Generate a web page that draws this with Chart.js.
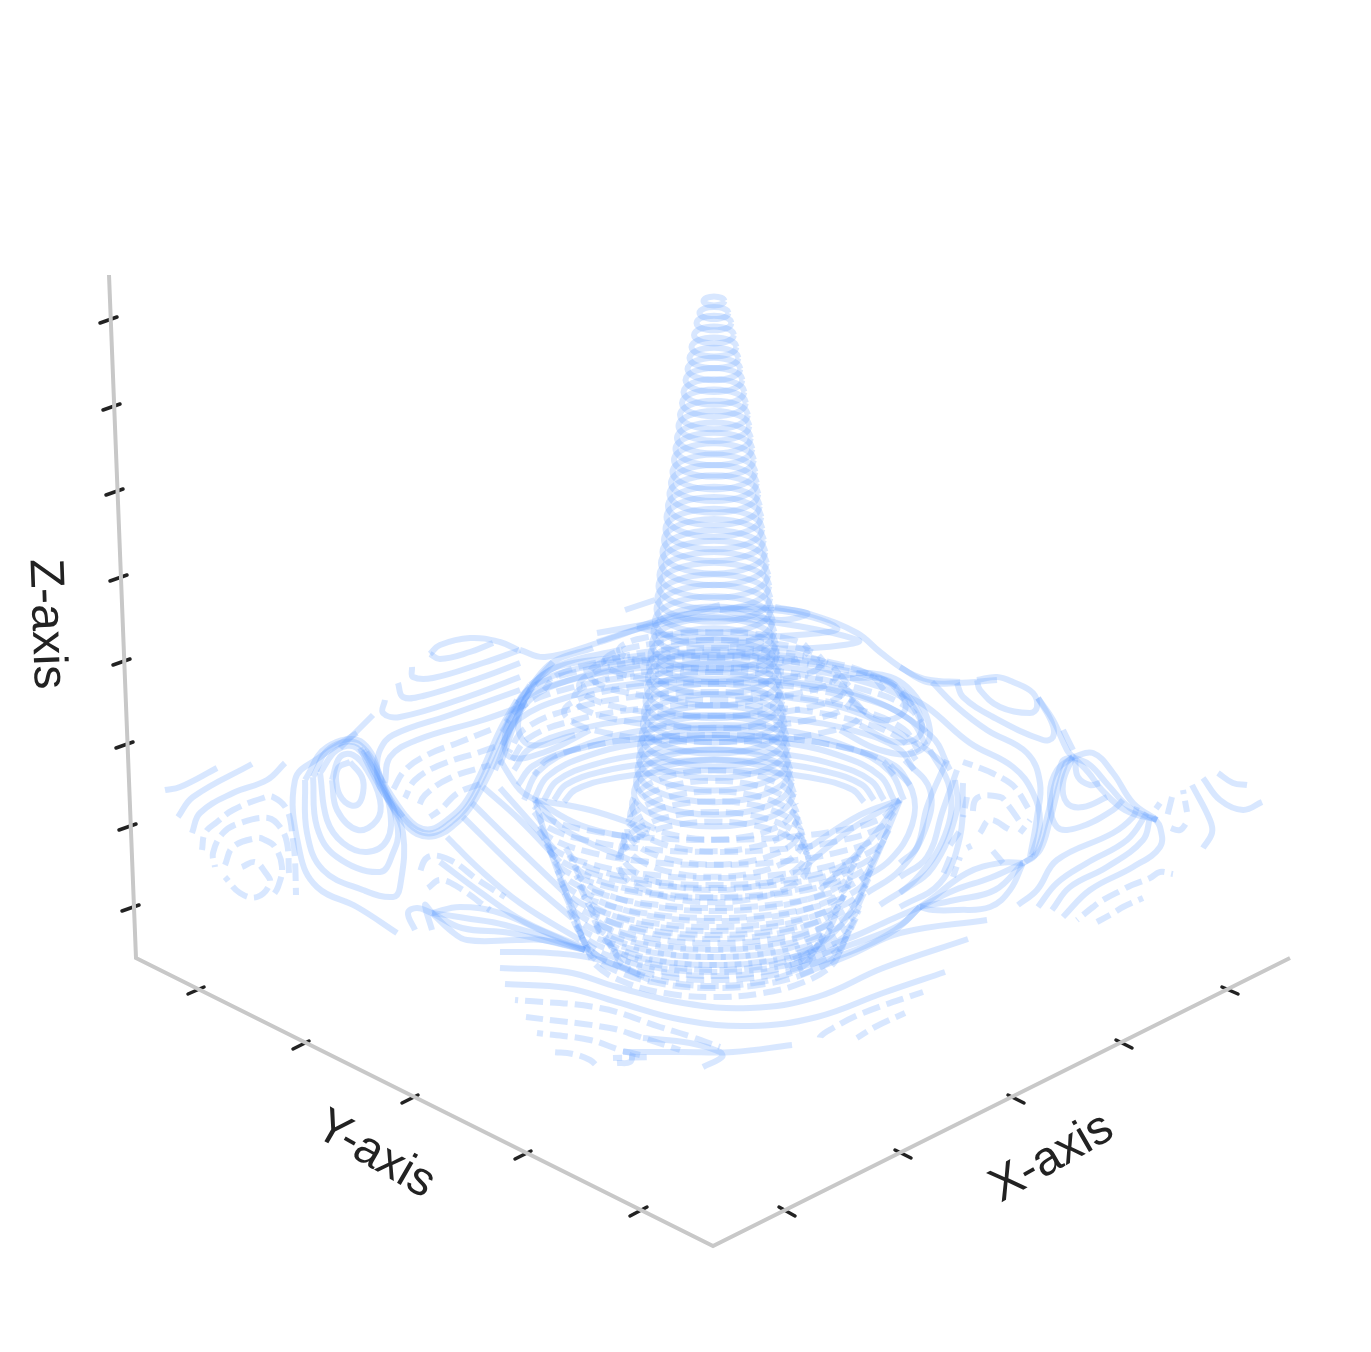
<!DOCTYPE html>
<html lang="en">
<head>
  <meta charset="UTF-8" />
  <title>3D contour</title>
  <script src="https://cdn.jsdelivr.net/npm/chart.js"></script>
  <style>
    body { margin: 0; background: #fff; }
    canvas { display: block; }
  </style>
</head>
<body>
  <canvas id="chart" width="1371" height="1352"></canvas>
  <script>

    // central peak, one contour per row: centre height and half width
    const peakCentre = [301,313,323,335,347,358,369,380,392,403,415,426,438,449,460,472,483,494,506,517,529,540,552,563,575,586,598,609,621,632,644,655,667,678,690,701,713,724,736,747,759,770,782,793,805,816,828,839,851,862];
    const peakRadius = [10.5,14.5,17.5,20,22.5,24.5,26.5,28.5,30.5,32,34,35.5,37,38.5,40,41.5,43,44.5,46,47.5,48.5,50,51.5,53,54.5,55.5,56.5,57.5,59,60.5,62,63.5,65,66,67,68.5,70,71,72.5,74,75,76.5,78,80,82,84,87,90,93,96];

    // rings around the middle: [centre y, half width, half height]
    const centreDashRings = [[650,95,18],[662,110,22],[674,125,26],[686,135,30],[698,140,30],[712,150,30]];
    const upperSolidArcs = [[700,190,45],[722,208,58],[745,212,66],[770,200,55],[785,196,50]];
    const upperDashArcs = [[690,170,38],[708,200,50],[732,212,60],[752,205,60],[760,202,55],[775,180,40]];
    const bowlArcs = [[800,190,75],[800,180,62],[800,170,50],[800,160,40],[802,150,32]];
    const lowerDashArcs = [[945,128,52],[935,133,53],[930,135,50],[925,138,47],[918,142,47],[910,145,47],[900,148,50],[893,150,50],[885,152,50],[878,155,49],[870,157,48],[860,160,48],[850,165,48],[840,170,48],[830,175,48],[820,178,45],[812,180,40],[806,180,34]];
    const lowerDashArcsInner = [[950,100,36],[942,105,34],[934,110,36],[925,118,40],[915,122,42],[905,125,44],[895,130,44],[885,135,46],[875,138,46],[865,140,46],[855,145,42],[845,150,40]];
    const unitRing = [[1,0],[.924,.383],[.707,.707],[.383,.924],[0,1],[-.383,.924],[-.707,.707],[-.924,.383],[-1,0],[-.924,-.383],[-.707,-.707],[-.383,-.924],[0,-1],[.383,-.924],[.707,-.707],[.924,-.383],[1,0]];
    const unitArc = [[-1,0],[-.924,-.383],[-.707,-.707],[-.383,-.924],[0,-1],[.383,-.924],[.707,-.707],[.924,-.383],[1,0]];
    const unitLower = [[-1,0],[-.924,.383],[-.707,.707],[-.383,.924],[0,1],[.383,.924],[.707,.707],[.924,.383],[1,0]];

    const leftHillLines = [
      [[350,762],[362,777],[363,793],[357,805],[345,802],[337,787],[338,768],[350,762]],
      [[332,780],[337,810],[358,830],[377,820],[380,800],[367,770],[353,755],[340,757],[332,780]],
      [[320,773],[327,820],[343,843],[367,852],[387,840],[390,810],[380,783],[357,748],[337,750],[320,773]],
      [[313,777],[317,827],[337,857],[380,872],[393,853],[398,830],[387,793],[360,745],[330,748],[313,777]],
      [[305,780],[307,833],[323,870],[363,890],[393,897],[400,887],[403,833],[387,797],[363,743],[327,747],[305,780]],
      [[397,933],[357,907],[317,887],[300,853],[295,780],[320,757],[357,733]],
      [[340,748],[373,715]],
      [[363,750],[383,787],[403,817],[417,830],[433,833],[450,823],[467,807],[483,777],[503,733],[520,703]],
      [[360,748],[380,787],[402,820],[417,834],[435,836],[453,826],[470,808],[487,778],[507,735],[525,700]],
      [[366,752],[386,787],[405,815],[418,827],[432,829],[447,820],[464,804],[480,775],[500,730],[517,700]],
      [[165,790],[180,787],[217,768]],
      [[178,817],[193,797],[252,764]],
      [[192,833],[200,813],[233,793],[267,780],[285,763]]
    ];
    const leftHillDashes = [
      [[202,850],[205,833],[217,822],[233,810],[263,798],[273,797],[287,810],[293,840],[295,860],[296,895]],
      [[215,867],[213,853],[223,833],[240,823],[268,818],[280,827],[287,843],[289,873]],
      [[225,865],[233,847],[257,838],[265,840],[275,847],[282,867],[278,887],[272,897]],
      [[225,877],[240,893],[257,897],[270,883],[265,872],[255,862],[242,867]]
    ];
    const backLeftLines = [
      [[430,654],[440,645],[470,638],[500,642],[518,650]],
      [[430,654],[440,659],[470,652],[493,643]],
      [[412,667],[413,677],[433,678],[483,663],[520,650]],
      [[398,683],[403,697],[423,696],[483,677],[520,663]],
      [[385,700],[383,713],[400,717],[467,697],[520,677]],
      [[403,817],[380,787],[377,767],[380,750],[393,735],[450,715],[520,690]],
      [[385,783],[390,757],[417,740],[483,720],[525,705]]
    ];
    const valleyLeftDashes = [
      [[393,790],[405,770],[427,755],[460,742],[495,728]],
      [[405,798],[415,780],[440,765],[480,752],[500,745]],
      [[418,808],[425,795],[450,778],[490,765]],
      [[430,817],[440,810],[458,793],[483,783]],
      [[418,877],[428,857],[450,860],[478,880],[505,897]],
      [[428,888],[440,880],[458,887],[490,910]]
    ];
    const leftLens = [
      [[432,913],[460,907],[500,913],[540,930],[585,950]],
      [[432,913],[450,930],[467,940],[517,940],[543,940],[585,950]],
      [[432,913],[465,918],[505,925],[585,950]],
      [[432,913],[462,928],[510,933],[585,950]],
      [[415,930],[408,913],[417,908],[432,913]],
      [[432,930],[425,905],[432,913]]
    ];
    const leftFold = [
      [[530,685],[517,705],[505,735],[510,757],[545,752],[590,730]],
      [[553,662],[530,690],[518,725],[530,745],[575,735]],
      [[500,765],[530,690],[560,665],[620,650]],
      [[495,770],[525,705],[570,680],[640,665]]
    ];
    const rightFold = [
      [[833,678],[870,673],[907,687],[930,730],[917,752],[880,750],[840,730]],
      [[850,678],[885,680],[915,705],[920,735],[895,742],[860,725]],
      [[870,675],[895,685],[905,710],[880,720],[850,700]],
      [[775,695],[850,710],[920,745],[945,765]],
      [[780,680],[860,695],[930,735],[950,770]]
    ];
    const wallLeftLines = [
      [[483,787],[520,820],[560,862]],
      [[472,803],[520,850],[565,893]],
      [[463,817],[520,873],[572,918]],
      [[447,837],[477,867],[520,903],[580,940]],
      [[440,862],[480,892],[525,922],[590,950]],
      [[500,788],[533,825],[555,850]],
      [[500,760],[520,790],[535,800]]
    ];
    const frontLines = [
      [[500,952],[550,953],[600,960],[650,980]],
      [[500,968],[567,972],[617,987],[683,1003],[750,1008],[817,997],[883,968],[968,939]],
      [[505,984],[567,988],[617,1002],[683,1020],[750,1026],[817,1017],[883,993],[945,972]],
      [[800,975],[850,955],[900,933],[987,920]],
      [[623,1052],[683,1052],[733,1052],[792,1045]],
      [[643,1038],[690,1043],[720,1052],[722,1057],[703,1067]],
      [[617,1063],[630,1062],[633,1053]]
    ];
    const frontDashes = [
      [[515,1000],[600,1008],[660,1027],[692,1037],[720,1047]],
      [[526,1017],[610,1028],[640,1037],[680,1050]],
      [[537,1033],[590,1040],[620,1050],[640,1055]],
      [[553,1052],[573,1054],[590,1060],[598,1067]],
      [[613,1058],[653,1057]],
      [[822,1042],[820,1037],[833,1028],[863,1013],[923,992]],
      [[857,1038],[875,1027],[905,1013]]
    ];
    const backRidge = [
      [[520,650],[545,657],[597,643],[650,625],[720,605]],
      [[597,633],[653,623]],
      [[625,610],[655,600]],
      [[775,607],[813,615],[857,633],[880,652],[908,672],[930,680],[960,682]],
      [[720,610],[747,607],[807,613],[780,620],[720,610]],
      [[637,627],[680,615],[773,610],[837,628],[797,635],[680,637],[637,627]],
      [[597,642],[647,627],[720,617],[858,640],[813,648],[730,647]],
      [[517,705],[530,687],[553,662],[593,648]],
      [[530,685],[557,667],[620,657]]
    ];
    const rightHillLines = [
      [[977,680],[980,690],[1000,707],[1030,713],[1037,707],[1033,693],[1013,682],[997,677],[977,680]],
      [[957,683],[963,697],[993,717],[1043,740],[1053,737],[1052,723],[1038,698]],
      [[932,682],[957,707],[987,730],[1027,753],[1040,783],[1037,817],[1030,857]],
      [[900,667],[927,682],[957,683],[997,680]],
      [[900,693],[927,707],[970,743],[1013,767],[1033,793],[1040,823],[1032,855]],
      [[1038,698],[1053,720],[1067,750],[1073,757]],
      [[1063,730],[1073,750]],
      [[1075,760],[1078,777],[1090,785],[1100,783]],
      [[1073,757],[1063,783],[1067,803],[1083,807],[1107,797]],
      [[1073,757],[1057,770],[1050,793],[1057,827],[1080,827],[1113,810],[1123,800]],
      [[1073,757],[1093,753],[1113,773],[1133,803],[1157,820]],
      [[1073,757],[1090,765],[1108,785],[1130,808],[1157,820]],
      [[1073,757],[1088,772],[1102,790],[1125,810],[1157,820]],
      [[1073,757],[1065,765],[1050,820],[1040,850],[1025,862]],
      [[1073,757],[1062,762],[1045,825],[1035,855],[1023,863]],
      [[1018,905],[1037,890],[1057,860],[1113,833],[1133,817],[1137,807]],
      [[1038,907],[1057,883],[1087,863],[1127,840],[1147,813]],
      [[1052,910],[1070,887],[1107,867],[1143,840],[1150,817]],
      [[1063,917],[1090,890],[1133,867],[1160,847],[1160,827],[1153,817]],
      [[1218,773],[1233,783],[1247,785]],
      [[1203,778],[1220,800],[1243,810],[1262,802]],
      [[1192,785],[1210,820],[1212,833],[1203,848]]
    ];
    const rightHillDashes = [
      [[1077,920],[1093,907],[1103,900],[1122,890],[1132,885],[1150,878],[1160,872],[1173,874]],
      [[1097,922],[1115,912],[1123,907],[1143,898]],
      [[1183,790],[1187,812]],
      [[1172,797],[1167,817]],
      [[1160,803],[1153,813]],
      [[1168,827],[1180,830],[1187,822]],
      [[963,762],[980,768],[992,773],[1010,783],[1017,790],[1028,808]],
      [[972,817],[977,798],[1000,797],[1008,805],[1020,822]],
      [[980,833],[990,820],[1010,830]],
      [[963,817],[967,797]],
      [[950,845],[962,828]],
      [[967,848],[977,843]],
      [[992,850],[1003,863]],
      [[1020,833],[1030,820]],
      [[942,877],[950,857]],
      [[953,877],[960,857]]
    ];
    const rightLens = [
      [[1023,863],[1000,863],[967,873],[930,900],[920,907]],
      [[1023,863],[1010,890],[990,907],[957,910],[933,910],[920,907]],
      [[1023,863],[990,878],[955,890],[920,907]],
      [[1023,863],[995,890],[955,900],[920,907]],
      [[920,907],[900,925],[850,945],[790,965]],
      [[920,907],[895,930],[850,952],[790,970]],
      [[920,907],[890,920],[850,938],[790,958]]
    ];
    const wallRightLines = [
      [[900,863],[917,847],[927,807],[947,760]],
      [[900,877],[927,857],[943,810],[957,770]],
      [[900,893],[933,867],[957,810],[955,780]],
      [[900,907],[940,883],[960,837],[963,783]],
      [[867,893],[900,870],[925,830],[930,790],[905,760]],
      [[860,880],[890,860],[912,825],[912,790],[890,765]],
      [[880,905],[915,880],[945,835],[950,790],[930,750]]
    ];
    // folds running out of the two tips left and right of the peak
    const foldLines = [
      [[535,800],[590,810],[650,830]],
      [[535,800],[580,825],[640,840]],
      [[535,800],[565,830],[630,860]],
      [[535,800],[550,850],[575,915],[590,950],[640,975]],
      [[900,800],[860,815],[805,850]],
      [[900,800],[850,830],[800,870]],
      [[900,800],[870,840],[820,890]],
      [[900,800],[875,860],[845,920],[800,960]]
    ];

    const axisLines = [[[109,275],[136,958],[713,1246],[1290,958]]];
    const zTicks = [[[100,323],[117,317]],[[103,410],[120,404]],[[106,495],[123,489]],[[110,581],[127,575]],[[113,665],[130,659]],[[116,748],[133,742]],[[119,830],[136,824]],[[122,911],[139,905]]];
    const yTicks = [[[188,994],[204,987]],[[293,1049],[309,1041]],[[402,1103],[418,1095]],[[515,1159],[531,1151]],[[630,1216],[647,1207]]];
    const xTicks = [[[779,1207],[795,1216]],[[895,1150],[911,1158]],[[1008,1095],[1024,1103]],[[1116,1040],[1132,1048]],[[1222,987],[1238,994]]];
    const axisTitles = ['X-axis', 'Y-axis', 'Z-axis'];

    const contourColor = 'rgba(100,160,255,0.25)';

    function toPoints(line) {
      return line.map(([x, y]) => ({ x, y }));
    }
    function ringPoints(cy, rx, ry, shape = unitRing) {
      return shape.map(([u, v]) => ({ x: 714 + u * rx, y: cy + v * ry }));
    }
    let dashShift = 0; // so the dashes of neighbouring contours do not line up
    function contour(points, dash) {
      dashShift += 11;
      return { data: points, borderColor: contourColor, borderWidth: 6, borderDash: dash ? [18, 7] : [], borderDashOffset: dashShift, tension: 0.4 };
    }

    const datasets = [];
    peakCentre.forEach((cy, i) => {
      datasets.push(contour(ringPoints(cy, peakRadius[i], peakRadius[i] * 0.42), cy > 800));
    });
    centreDashRings.forEach(r => datasets.push(contour(ringPoints(...r), true)));
    upperSolidArcs.forEach(r => datasets.push(contour(ringPoints(...r, unitArc), false)));
    upperDashArcs.forEach(r => datasets.push(contour(ringPoints(...r, unitArc), true)));
    bowlArcs.forEach(r => datasets.push(contour(ringPoints(...r, unitArc), false)));
    lowerDashArcs.forEach(r => datasets.push(contour(ringPoints(...r, unitLower), true)));
    lowerDashArcsInner.forEach(r => datasets.push(contour(ringPoints(...r, unitLower), true)));

    [leftHillLines, backLeftLines, leftLens, leftFold, rightFold, wallLeftLines, frontLines, backRidge, rightHillLines, rightLens, wallRightLines, foldLines]
      .forEach(group => group.forEach(l => datasets.push(contour(toPoints(l), false))));
    [leftHillDashes, valleyLeftDashes, frontDashes, rightHillDashes]
      .forEach(group => group.forEach(l => datasets.push(contour(toPoints(l), true))));

    axisLines.forEach(l => datasets.push({ data: toPoints(l), borderColor: '#c8c8c8', borderWidth: 4, tension: 0 }));
    [zTicks, yTicks, xTicks].forEach(group => group.forEach(l => {
      datasets.push({ data: toPoints(l), borderColor: '#222', borderWidth: 3.5, borderCapStyle: 'round', tension: 0 });
    }));

    // rotated axis names, Chart.js has no titles for a projected box
    const titlePlugin = {
      id: 'titles',
      afterDraw(chart) {
        const ctx = chart.ctx;
        const spots = [[1052, 1158, -30], [375, 1155, 30], [46, 624, 88]];
        ctx.save();
        ctx.fillStyle = '#222';
        ctx.font = '48px "Liberation Sans", sans-serif';
        ctx.textAlign = 'center';
        ctx.textBaseline = 'middle';
        axisTitles.forEach((t, i) => {
          ctx.save();
          ctx.translate(chart.scales.x.getPixelForValue(spots[i][0]), chart.scales.y.getPixelForValue(spots[i][1]));
          ctx.rotate(spots[i][2] * Math.PI / 180);
          ctx.fillText(t, 0, 0);
          ctx.restore();
        });
        ctx.restore();
      }
    };

    new Chart(document.getElementById('chart').getContext('2d'), {
      type: 'scatter',
      data: { datasets },
      plugins: [titlePlugin],
      options: {
        responsive: false,
        animation: false,
        showLine: true,
        layout: { padding: 0 },
        elements: { point: { radius: 0 } },
        plugins: { legend: { display: false }, tooltip: { enabled: false } },
        scales: {
          x: { type: 'linear', min: 0, max: 1371, display: false },
          y: { type: 'linear', min: 0, max: 1352, reverse: true, display: false }
        }
      }
    });
  </script>
</body>
</html>
